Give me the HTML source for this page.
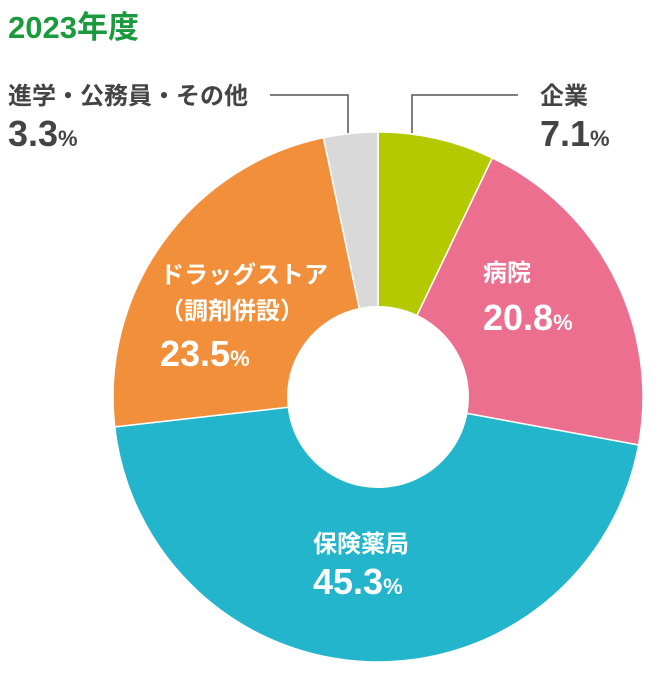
<!DOCTYPE html>
<html><head><meta charset="utf-8">
<style>
body{margin:0;background:#fff;width:651px;height:676px;overflow:hidden;font-family:"Liberation Sans","Noto Sans CJK JP",sans-serif;}
svg text{font-family:"Liberation Sans","Noto Sans CJK JP",sans-serif;font-weight:bold;}
</style></head><body>
<svg width="651" height="676">
<text x="8" y="38" font-size="31" fill="#1a9a3c">2023年度</text>
<g id="slices"></g>
<circle cx="378" cy="397" r="91" fill="#fff"/>
<polyline points="270,95 348,95 348,133" fill="none" stroke="#555" stroke-width="1.5"/>
<polyline points="412,133 412,95 518,95" fill="none" stroke="#555" stroke-width="1.5"/>
<g id="labels"></g>
</svg>
<script>
const categories=["企業","病院","保険薬局","ドラッグストア(調剤併設)","進学・公務員・その他"];
const values=[7.1,20.8,45.3,23.5,3.3];
const colors=["#b5c900","#ec6f8f","#22b5cc","#f28f3a","#d9d9d9"];
const cx=378,cy=397,R=265;
const NS="http://www.w3.org/2000/svg";
const total=values.reduce((a,b)=>a+b,0);
function pt(f,r){const a=f*2*Math.PI-Math.PI/2;return [cx+r*Math.cos(a),cy+r*Math.sin(a)];}
let acc=0;const g=document.getElementById('slices');
values.forEach((v,i)=>{
 const f0=acc/total,f1=(acc+v)/total;acc+=v;
 const p0=pt(f0,R),p1=pt(f1,R);
 const large=(f1-f0)>0.5?1:0;
 const p=document.createElementNS(NS,'path');
 p.setAttribute('d',`M${cx},${cy} L${p0[0]},${p0[1]} A${R},${R} 0 ${large} 1 ${p1[0]},${p1[1]} Z`);
 p.setAttribute('fill',colors[i]);
 p.setAttribute('stroke','#fff');p.setAttribute('stroke-width','1.5');
 
 
 g.appendChild(p);
});
const L=document.getElementById('labels');
function label(lines,x,y,color,size,pctY,val,name,anchor){
 lines.forEach((t,k)=>{
  const e=document.createElementNS(NS,'text');
  e.setAttribute('x',x);e.setAttribute('y',y+k*36);e.setAttribute('font-size',size);e.setAttribute('fill',color);
  e.textContent=t;
  
  
  L.appendChild(e);
 });
 const e=document.createElementNS(NS,'text');
 e.setAttribute('x',x);e.setAttribute('y',pctY);e.setAttribute('fill',color);e.setAttribute('font-size',36);
 e.innerHTML=val.toFixed(1)+'<tspan font-size="22">%</tspan>';
 
 
 L.appendChild(e);
}
label(["進学・公務員・その他"],8,104,"#444",24,146,values[4],"other");
label(["企業"],540,104,"#444",24,146,values[0],"company");
label(["病院"],483,281,"#fff",24,330,values[1],"hospital");
label(["ドラッグストア","（調剤併設）"],160,283,"#fff",24,366,values[3],"drugstore");
label(["保険薬局"],313,552,"#fff",24,594,values[2],"pharmacy");
</script>
</body></html>
